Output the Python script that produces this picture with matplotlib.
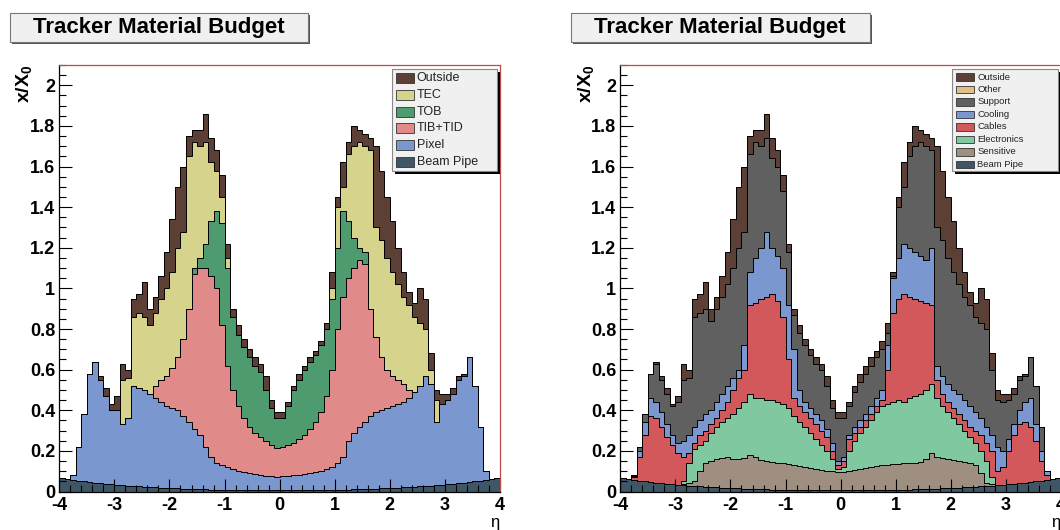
import numpy as np
import matplotlib
matplotlib.use('Agg')
import matplotlib.pyplot as plt
from matplotlib.patches import Rectangle
from matplotlib.ticker import MultipleLocator, FuncFormatter

plt.rcParams['font.family'] = ['Liberation Sans', 'DejaVu Sans']
plt.rcParams['font.weight'] = 'bold'
plt.rcParams['axes.unicode_minus'] = False
plt.rcParams['mathtext.fontset'] = 'custom'
plt.rcParams['mathtext.bf'] = 'Liberation Sans:bold'
plt.rcParams['mathtext.rm'] = 'Liberation Sans'

# eta bins, width 0.1
eta_edges = np.linspace(-4, 4, 81)

# stack tops (x/X0), bin by bin from eta=-4 to 4
beam_top = [0.066,0.062,0.058,0.054,0.050,0.047,0.044,0.041,0.038,0.035,0.033,0.031,0.029,0.027,0.025,0.023,0.021,0.020,0.018,0.017,
            0.016,0.015,0.014,0.013,0.012,0.011,0.010,0.009,0.009,0.008,0.008,0.007,0.007,0.006,0.006,0.006,0.005,0.005,0.005,0.005,
            0.005,0.005,0.005,0.005,0.006,0.006,0.006,0.007,0.007,0.008,0.008,0.009,0.009,0.010,0.011,0.012,0.013,0.014,0.015,0.016,
            0.017,0.018,0.020,0.021,0.023,0.025,0.027,0.029,0.031,0.033,0.035,0.038,0.041,0.044,0.047,0.050,0.054,0.058,0.062,0.066]

# left plot: subdetectors
pixel_top = [0.066,0.062,0.08,0.22,0.38,0.58,0.64,0.55,0.47,0.4,0.4,0.33,0.36,0.52,0.51,0.5,0.48,0.46,0.44,0.42,
             0.41,0.4,0.37,0.34,0.31,0.28,0.22,0.17,0.14,0.13,0.12,0.11,0.1,0.095,0.09,0.085,0.08,0.078,0.075,0.072,
             0.074,0.078,0.08,0.082,0.085,0.09,0.095,0.1,0.11,0.12,0.14,0.17,0.25,0.29,0.32,0.34,0.37,0.39,0.4,0.41,
             0.42,0.43,0.44,0.46,0.49,0.52,0.57,0.53,0.34,0.43,0.45,0.48,0.55,0.57,0.66,0.52,0.32,0.1,0.062,0.066]
tib_top = [0.066,0.062,0.08,0.22,0.38,0.58,0.64,0.55,0.47,0.4,0.4,0.33,0.36,0.52,0.51,0.5,0.48,0.52,0.55,0.57,
           0.61,0.66,0.75,0.9,1.07,1.1,1.1,1.06,1.0,0.82,0.62,0.5,0.42,0.36,0.32,0.29,0.27,0.25,0.23,0.215,
           0.22,0.23,0.24,0.26,0.28,0.31,0.34,0.39,0.47,0.6,0.8,0.96,1.05,1.1,1.14,1.12,0.9,0.76,0.66,0.6,
           0.57,0.55,0.53,0.5,0.49,0.52,0.57,0.53,0.34,0.43,0.45,0.48,0.55,0.57,0.66,0.52,0.32,0.1,0.062,0.066]
tob_top = [0.066,0.062,0.08,0.22,0.38,0.58,0.64,0.55,0.47,0.4,0.4,0.33,0.36,0.52,0.51,0.5,0.48,0.52,0.55,0.57,
           0.61,0.66,0.75,0.9,1.1,1.15,1.22,1.33,1.38,1.32,1.1,0.86,0.77,0.71,0.66,0.62,0.59,0.5,0.41,0.36,
           0.36,0.42,0.5,0.55,0.6,0.64,0.67,0.72,0.8,0.95,1.2,1.38,1.33,1.25,1.2,1.18,0.9,0.76,0.66,0.6,
           0.57,0.55,0.53,0.5,0.49,0.52,0.57,0.53,0.34,0.43,0.45,0.48,0.55,0.57,0.66,0.52,0.32,0.1,0.062,0.066]
tec_top = [0.066,0.062,0.08,0.22,0.38,0.58,0.64,0.55,0.47,0.4,0.4,0.55,0.56,0.86,0.88,0.86,0.82,0.88,0.95,1.0,
           1.08,1.2,1.28,1.65,1.72,1.7,1.72,1.62,1.58,1.45,1.15,0.86,0.77,0.71,0.66,0.62,0.59,0.5,0.41,0.36,
           0.36,0.42,0.5,0.55,0.6,0.64,0.67,0.72,0.8,1.0,1.4,1.5,1.66,1.7,1.72,1.7,1.68,1.3,1.24,1.15,
           1.08,1.02,0.96,0.92,0.86,0.83,0.8,0.6,0.45,0.43,0.45,0.48,0.55,0.57,0.66,0.52,0.32,0.1,0.062,0.066]
total_top = [0.066,0.062,0.08,0.22,0.38,0.58,0.64,0.57,0.51,0.43,0.47,0.63,0.6,0.95,0.97,1.03,0.9,0.96,1.06,1.18,
             1.34,1.5,1.6,1.75,1.78,1.78,1.86,1.74,1.68,1.56,1.22,0.9,0.82,0.75,0.7,0.66,0.63,0.57,0.45,0.39,
             0.39,0.44,0.52,0.58,0.62,0.66,0.69,0.74,0.83,1.08,1.45,1.62,1.72,1.8,1.78,1.76,1.74,1.7,1.58,1.45,
             1.33,1.2,1.08,0.98,0.93,1.0,0.95,0.68,0.5,0.48,0.48,0.51,0.57,0.58,0.66,0.52,0.32,0.1,0.062,0.066]

# right plot: categories
sens_top = [0.066,0.062,0.058,0.054,0.050,0.047,0.044,0.041,0.038,0.035,0.033,0.035,0.04,0.05,0.1,0.14,0.15,0.16,0.165,0.17,
            0.16,0.16,0.165,0.18,0.17,0.155,0.15,0.145,0.14,0.14,0.135,0.13,0.125,0.12,0.115,0.11,0.105,0.1,0.1,0.095,
            0.095,0.1,0.105,0.11,0.115,0.12,0.125,0.13,0.13,0.135,0.135,0.14,0.14,0.14,0.145,0.16,0.19,0.17,0.165,0.16,
            0.155,0.15,0.145,0.14,0.13,0.09,0.04,0.035,0.031,0.033,0.035,0.038,0.041,0.044,0.047,0.050,0.054,0.058,0.062,0.066]
elec_top = [0.066,0.062,0.058,0.054,0.050,0.047,0.044,0.041,0.038,0.035,0.033,0.05,0.14,0.21,0.23,0.25,0.29,0.32,0.34,0.36,
            0.38,0.41,0.44,0.48,0.46,0.46,0.45,0.45,0.44,0.43,0.41,0.37,0.34,0.32,0.29,0.26,0.23,0.2,0.16,0.11,
            0.12,0.2,0.25,0.29,0.32,0.35,0.39,0.42,0.43,0.44,0.45,0.44,0.46,0.47,0.48,0.5,0.53,0.46,0.42,0.39,
            0.36,0.33,0.3,0.27,0.24,0.2,0.15,0.07,0.031,0.033,0.035,0.038,0.041,0.044,0.047,0.050,0.054,0.058,0.062,0.066]
cables_top = [0.066,0.062,0.07,0.17,0.28,0.37,0.36,0.32,0.27,0.23,0.19,0.17,0.19,0.24,0.28,0.3,0.33,0.36,0.4,0.44,
              0.5,0.56,0.6,0.92,0.93,0.95,0.96,0.97,0.94,0.86,0.65,0.46,0.42,0.39,0.36,0.33,0.3,0.27,0.2,0.13,
              0.15,0.26,0.29,0.32,0.35,0.38,0.42,0.45,0.6,0.88,0.95,0.97,0.96,0.95,0.94,0.93,0.92,0.55,0.48,0.44,
              0.41,0.38,0.35,0.32,0.3,0.28,0.24,0.2,0.1,0.12,0.2,0.28,0.33,0.34,0.32,0.25,0.15,0.08,0.062,0.066]
cooling_top = [0.066,0.062,0.075,0.2,0.34,0.46,0.44,0.39,0.33,0.28,0.24,0.25,0.28,0.32,0.35,0.38,0.4,0.44,0.48,0.52,
               0.56,0.6,0.72,1.08,1.15,1.2,1.28,1.2,1.16,1.1,0.92,0.7,0.5,0.44,0.41,0.38,0.35,0.31,0.24,0.15,
               0.17,0.28,0.32,0.35,0.38,0.42,0.46,0.5,0.72,1.05,1.15,1.22,1.2,1.18,1.16,1.14,1.2,0.62,0.57,0.53,
               0.5,0.48,0.45,0.42,0.39,0.36,0.32,0.28,0.22,0.2,0.26,0.33,0.4,0.44,0.46,0.33,0.2,0.1,0.062,0.066]
support_top = [0.066,0.062,0.08,0.22,0.38,0.58,0.63,0.55,0.48,0.42,0.44,0.55,0.56,0.86,0.88,0.9,0.84,0.9,0.96,1.02,
               1.1,1.2,1.28,1.66,1.72,1.7,1.74,1.64,1.6,1.48,1.18,0.87,0.78,0.72,0.67,0.63,0.6,0.52,0.41,0.36,
               0.36,0.42,0.49,0.54,0.58,0.62,0.66,0.7,0.78,1.06,1.4,1.5,1.65,1.7,1.72,1.7,1.68,1.3,1.24,1.15,
               1.08,1.02,0.96,0.92,0.86,0.83,0.8,0.6,0.45,0.44,0.45,0.48,0.55,0.57,0.66,0.52,0.32,0.1,0.062,0.066]

left_labels = ['Outside', 'TEC', 'TOB', 'TIB+TID', 'Pixel', 'Beam Pipe']
left_colors = ['#5c4036', '#d6d38c', '#4e9b6f', '#e08a8a', '#7b97d0', '#3f5666']
right_labels = ['Outside', 'Other', 'Support', 'Cooling', 'Cables', 'Electronics', 'Sensitive', 'Beam Pipe']
right_colors = ['#5c4036', '#e2bd85', '#606060', '#7b97d0', '#d2585c', '#80c8a0', '#9e8f81', '#3f5666']

W, H = 1060, 530
fig = plt.figure(figsize=(10.6, 5.3), dpi=100)


def frac(x0, y0, x1, y1):
    # picture pixels (y down) -> figure fraction rect
    return (x0 / W, 1 - y1 / H), (x1 - x0) / W, (y1 - y0) / H


def rect(x0, y0, x1, y1, **kw):
    xy, w, h = frac(x0, y0, x1, y1)
    fig.patches.append(Rectangle(xy, w, h, transform=fig.transFigure, **kw))


def title_box(x0, x1):
    rect(x0 + 2, 15.3, x1 + 2, 44.3, facecolor='#555555', edgecolor='none')
    rect(x0, 13.3, x1, 42.3, facecolor='#f0f0f0', edgecolor='#777777', lw=0.8)
    fig.text((x0 + x1) / 2 / W, 1 - 28 / H, 'Tracker Material Budget',
             fontsize=16, weight='bold', ha='center', va='center')


def legend_box(x0, x1, labels, colors, row0, row1, ph, fs):
    rect(x0 + 3, 72, x1 + 3, 174, facecolor='black', edgecolor='none')
    rect(x0, 69, x1, 171, facecolor='#f0f0f0', edgecolor='#888888', lw=0.8)
    rows = np.linspace(row0, row1, len(labels))
    for lab, col, ry in zip(labels, colors, rows):
        rect(x0 + 4, ry - ph / 2, x0 + 22, ry + ph / 2, facecolor=col, edgecolor='#333333', lw=0.6)
        fig.text((x0 + 25) / W, 1 - ry / H, lab, fontsize=fs, weight='normal',
                 color='#222222', ha='left', va='center')


def setup_axes(ax):
    ax.set_xlim(-4, 4)
    ax.set_ylim(0, 2.1)
    ax.xaxis.set_major_locator(MultipleLocator(1))
    ax.xaxis.set_minor_locator(MultipleLocator(0.2))
    ax.yaxis.set_major_locator(MultipleLocator(0.2))
    ax.yaxis.set_minor_locator(MultipleLocator(0.05))
    fmt = FuncFormatter(lambda v, p: '%g' % round(v, 2))
    ax.xaxis.set_major_formatter(fmt)
    ax.yaxis.set_major_formatter(fmt)
    ax.tick_params(which='both', direction='in', top=False, right=False, width=0.8, labelsize=13)
    ax.tick_params(which='major', length=9.5)
    ax.tick_params(which='minor', length=5)
    ax.tick_params(axis='y', pad=3)
    ax.tick_params(axis='x', pad=4)
    ax.spines['left'].set_linewidth(0.9)
    ax.spines['bottom'].set_linewidth(0.9)
    for s in ['top', 'right']:
        ax.spines[s].set_color('#c04848')
        ax.spines[s].set_linewidth(0.9)


def draw_stack(ax, tops, colors):
    base = np.zeros(len(eta_edges) - 1)
    for top, col in zip(tops, colors):
        ax.stairs(top, eta_edges, baseline=base, fill=True, color=col, lw=0)
        base = np.asarray(top)
    for top in tops:
        ax.stairs(top, eta_edges, baseline=None, color='black', lw=0.7)


# left panel
ax1 = fig.add_axes([59.3 / W, 1 - 491.5 / H, 440.7 / W, 426.5 / H])
draw_stack(ax1, [beam_top, pixel_top, tib_top, tob_top, tec_top, total_top],
           left_colors[::-1])
setup_axes(ax1)

# right panel (cut at the right edge like the original)
ax2 = fig.add_axes([620.3 / W, 1 - 491.5 / H, 440.7 / W, 426.5 / H])
draw_stack(ax2, [beam_top, sens_top, elec_top, cables_top, cooling_top, support_top, total_top],
           ['#3f5666', '#9e8f81', '#80c8a0', '#d2585c', '#7b97d0', '#606060', '#5c4036'])
setup_axes(ax2)

for x0 in [0, 561]:
    fig.text((24.5 + x0) / W, 1 - 65 / H, r'$\mathbf{x/X_0}$', rotation=90,
             fontsize=14, ha='center', va='top')
    fig.text((495 + x0) / W, 1 - 522 / H, '\u03b7', fontsize=12, weight='normal',
             ha='center', va='center')

title_box(9.5, 308)
title_box(570.6, 869.8)
legend_box(391.7, 496.7, left_labels, left_colors, 78.3, 161.7, 10, 9)
legend_box(952.3, 1058.3, right_labels, right_colors, 77, 164.3, 7.5, 6.8)

fig.savefig('out.png', dpi=100)
plt.close()
